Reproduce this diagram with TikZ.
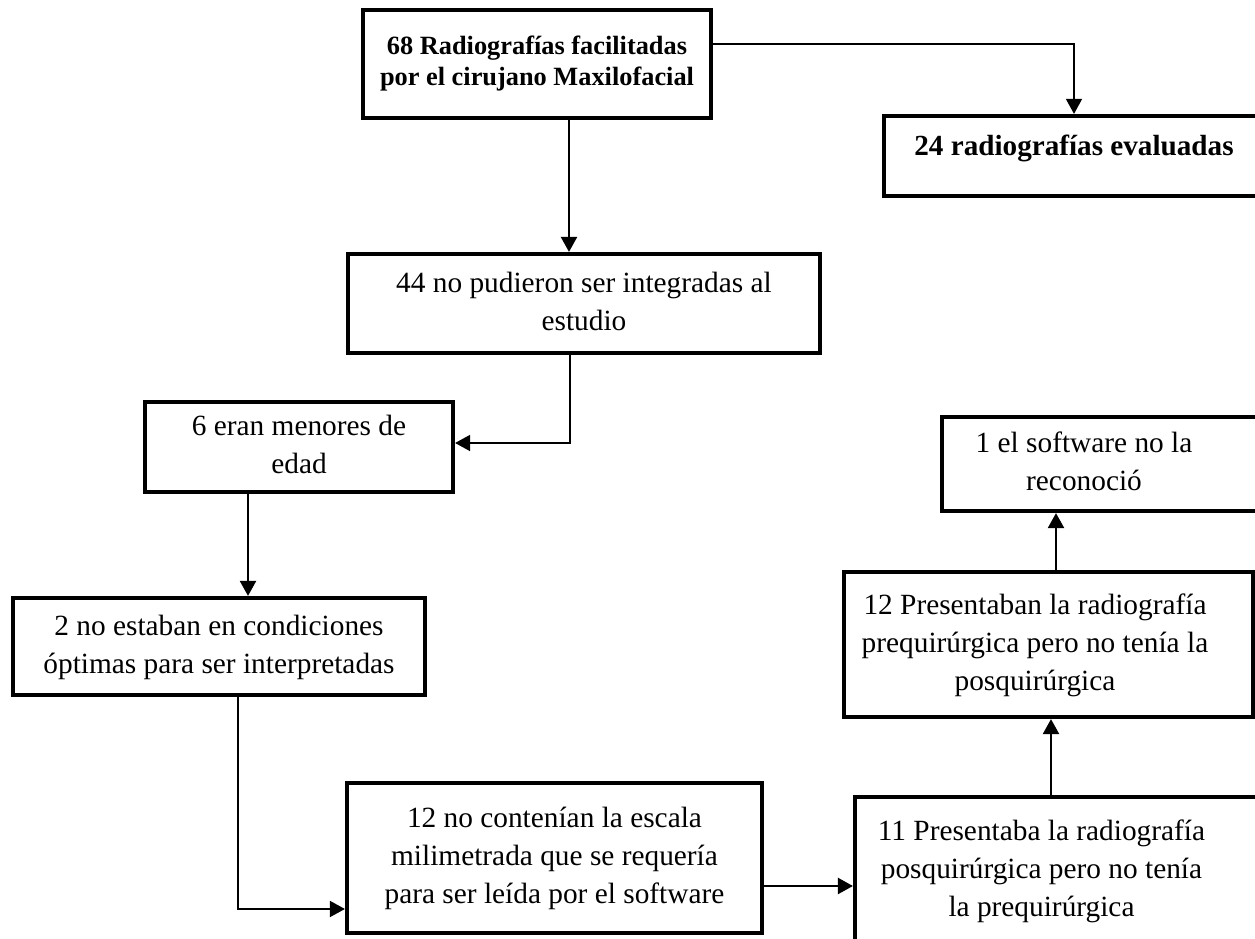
\documentclass[tikz,border=0pt]{standalone}
\usepackage{fontspec}
\setmainfont{Liberation Serif}
\usetikzlibrary{arrows.meta}

% lines of a box, the optional kern pushes the text to the left
\newcommand{\boxlines}[2][0cm]{\begin{tabular}{@{}c@{}}#2\end{tabular}\kern#1}

\tikzset{
  flowbox/.style={draw, line width=2.4pt, rectangle, inner sep=0pt,
    font=\fontsize{16.7}{21.6}\selectfont},
  headbox/.style={flowbox, font=\fontsize{15}{17.6}\selectfont\bfseries},
  arr/.style={-{Triangle[length=0.3cm,width=0.32cm]}, line width=1.3pt},
  thinarr/.style={arr, line width=0.9pt}
}

\begin{document}
\begin{tikzpicture}[x=0.02cm, y=-0.02cm]
    \useasboundingbox (0,0) rectangle (1255,939);
    \clip (0,0) rectangle (1255,939);

    % Top of the chart
    \node[headbox, minimum width=6.96cm, minimum height=2.16cm] (rad) at (537,64)
        {\boxlines{68 Radiografías facilitadas\\por el cirujano Maxilofacial}};
    \node[flowbox, font=\fontsize{16.6}{21.6}\selectfont\bfseries, minimum width=7.6cm,
        minimum height=1.6cm, text depth=16pt] (eval) at (1074,156)
        {\boxlines{24 radiografías evaluadas}};

    % Excluded ones
    \node[flowbox, minimum width=9.44cm, minimum height=1.98cm] (noint) at (584,303.5)
        {\boxlines{44 no pudieron ser integradas al\\estudio}};
    \node[flowbox, minimum width=6.16cm, minimum height=1.8cm] (menor) at (299,447)
        {\boxlines{6 eran menores de\\edad}};
    \node[flowbox, minimum width=8.24cm, minimum height=1.94cm] (cond) at (219,646.5)
        {\boxlines{2 no estaban en condiciones\\óptimas para ser interpretadas}};
    \node[flowbox, minimum width=8.3cm, minimum height=3.0cm] (escala) at (554.5,858)
        {\boxlines{12 no contenían la escala\\milimetrada que se requería\\para ser leída por el software}};
    \node[flowbox, minimum width=8.3cm, minimum height=2.94cm] (posq) at (1062.5,870.5)
        {\boxlines[0.84cm]{11 Presentaba la radiografía\\posquirúrgica pero no tenía\\la prequirúrgica}};
    \node[flowbox, minimum width=8.18cm, minimum height=2.9cm] (preq) at (1048.5,644.5)
        {\boxlines[0.54cm]{12 Presentaban la radiografía\\prequirúrgica pero no tenía la\\posquirúrgica}};
    \node[flowbox, minimum width=6.56cm, minimum height=1.88cm] (soft) at (1106,464)
        {\boxlines[0.88cm]{1 el software no la\\reconoció}};

    % Connectors
    \draw[thinarr] ([yshift=0.4cm]rad.east) -| (eval.north);
    \draw[arr] ([xshift=0.64cm]rad.south) -- ([xshift=0.64cm]rad.south |- noint.north);
    \draw[thinarr] ([xshift=-0.28cm]noint.south) |- ([yshift=0.08cm]menor.east);
    \draw[arr] ([xshift=-1.02cm]menor.south) -- ([xshift=-1.02cm]menor.south |- cond.north);
    \draw[thinarr] ([xshift=0.38cm]cond.south) |- ([yshift=-1.02cm]escala.west);
    \draw[arr] ([yshift=-0.56cm]escala.east) -- ([yshift=-0.56cm]escala.east -| posq.west);
    \draw[arr] ([xshift=-0.23cm]posq.north) -- ([xshift=-0.23cm]posq.north |- preq.south);
    \draw[arr] ([xshift=0.15cm]preq.north) -- ([xshift=0.15cm]preq.north |- soft.south);
\end{tikzpicture}
\end{document}
